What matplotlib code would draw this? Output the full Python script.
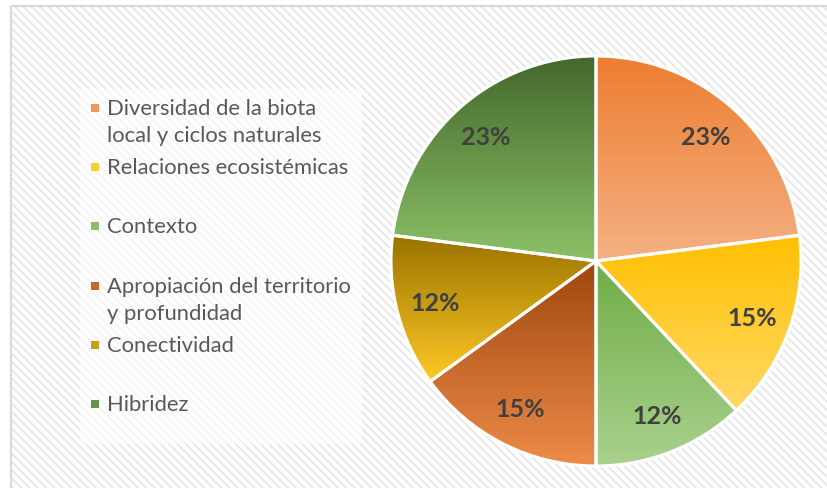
"""
Pie chart with gradient slices and a hatched background
"""
import numpy as np
import matplotlib
matplotlib.use('Agg')
from matplotlib import pyplot as plt
from matplotlib.colors import to_rgb
from matplotlib.patches import Rectangle

labels = ['Diversidad de la biota\nlocal y ciclos naturales',
          'Relaciones ecosistémicas',
          'Contexto',
          'Apropiación del territorio\ny profundidad',
          'Conectividad',
          'Hibridez']
values = [23, 15, 12, 15, 12, 23]
# (top, bottom) colour of each slice's vertical gradient
top_colors = ['#ED7D31', '#FFC000', '#70AD47', '#9E480E', '#997300', '#43682B']
bottom_colors = ['#F4B183', '#FFD966', '#A9D18E', '#EE8B48', '#FFC825', '#8CC168']

W, H = 828, 489
plt.rcParams['font.family'] = ['Lato', 'DejaVu Sans']
plt.rcParams['hatch.linewidth'] = 1.3

fig = plt.figure(figsize=(W / 100, H / 100), dpi=100)

# background layer in pixel coords
bg = fig.add_axes([0, 0, 1, 1])
bg.set_xlim(0, W)
bg.set_ylim(H, 0)
bg.axis('off')
bg.add_patch(Rectangle((11, 7), W, H, facecolor='white', edgecolor='#E6E6E6',
                       linewidth=0, hatch='\\\\\\\\'))
bg.add_patch(Rectangle((11, 7), W, H, fill=False, edgecolor='#D9D9D9', linewidth=1.5))
bg.add_patch(Rectangle((80, 90), 282, 355, facecolor='white', edgecolor='none', alpha=0.6))


def gradient(top, bottom, n=256):
    t = np.linspace(0, 1, n)[:, None]
    return (1 - t) * np.array(to_rgb(top)) + t * np.array(to_rgb(bottom))


# legend, drawn by hand so the marker sits on the first line of each label
y0, step = 109, 59.2
for i, label in enumerate(labels):
    y = y0 + i * step
    mid = 0.5 * (np.array(to_rgb(top_colors[i])) + np.array(to_rgb(bottom_colors[i])))
    bg.add_patch(Rectangle((91, y - 4), 8, 8, facecolor=mid, edgecolor='none'))
    bg.text(107, y - 10, label, fontsize=15.8, color='#595959', va='top', ha='left',
            linespacing=1.44)

# pie
ax = fig.add_axes([391 / W, (H - 467) / H, 410 / W, 410 / H])
wedges, texts, autotexts = ax.pie(
    values, startangle=90, counterclock=False, radius=1,
    autopct='%1.0f%%', pctdistance=0.81,
    wedgeprops=dict(edgecolor='white', linewidth=2.2),
    textprops=dict(fontsize=18, fontweight='bold', color='#404040'))

for i, w in enumerate(wedges):
    ext = w.get_path().get_extents()
    im = ax.imshow(gradient(top_colors[i], bottom_colors[i])[:, None, :],
                   extent=(ext.x0, ext.x1, ext.y0, ext.y1), origin='upper',
                   aspect='auto', zorder=0.5)
    im.set_clip_path(w)
    w.set_facecolor('none')
    w.set_zorder(1)
for t in autotexts:
    t.set_zorder(3)

ax.set_xlim(-1, 1)
ax.set_ylim(-1, 1)
ax.set_aspect('equal')
ax.axis('off')

plt.savefig('out.png', dpi=100)
